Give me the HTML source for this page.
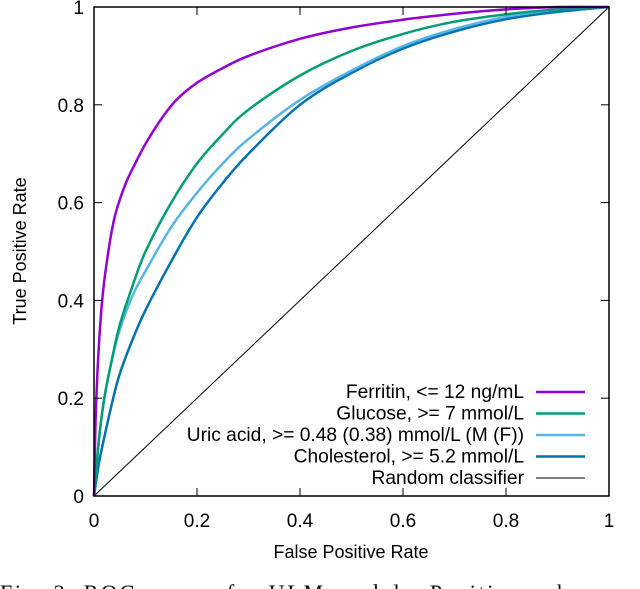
<!DOCTYPE html>
<html><head><meta charset="utf-8"><style>
html,body{margin:0;padding:0;background:#fff;width:640px;height:589px;overflow:hidden}
svg{display:block;font-family:"Liberation Sans",Arial,sans-serif}
</style></head><body>
<svg id="chart" width="640" height="589">
<text x="0" y="600" font-family="Liberation Serif,serif" font-size="22" fill="#000" textLength="600">Fig. 2.  ROC curves for ULM models. Positive values</text>
</svg>
<script>
const ticks=[0,0.2,0.4,0.6,0.8,1];
const tickLabels=["0","0.2","0.4","0.6","0.8","1"];
const seriesNames=["Ferritin, <= 12 ng/mL","Glucose, >= 7 mmol/L","Uric acid, >= 0.48 (0.38) mmol/L (M (F))","Cholesterol, >= 5.2 mmol/L"];
const ferritinX=[0,0.003,0.008,0.015,0.025,0.04,0.06,0.08,0.1,0.13,0.16,0.2,0.25,0.3,0.4,0.5,0.6,0.7,0.8,0.9,1];
const ferritinY=[0,0.15,0.28,0.39,0.48,0.57,0.635,0.68,0.72,0.77,0.81,0.845,0.875,0.9,0.935,0.958,0.974,0.986,0.995,1,1];
const glucoseX=[0,0.01,0.02,0.035,0.05,0.075,0.1,0.15,0.2,0.25,0.3,0.4,0.5,0.6,0.7,0.8,0.9,1];
const glucoseY=[0,0.12,0.2,0.28,0.35,0.43,0.5,0.6,0.68,0.74,0.79,0.86,0.91,0.945,0.97,0.985,0.995,1];
const uricX=[0,0.01,0.02,0.035,0.05,0.075,0.1,0.15,0.2,0.25,0.3,0.4,0.5,0.6,0.7,0.8,0.9,1];
const uricY=[0,0.12,0.2,0.28,0.34,0.41,0.46,0.55,0.62,0.68,0.73,0.81,0.87,0.92,0.955,0.98,0.995,1];
const cholX=[0,0.01,0.02,0.035,0.05,0.075,0.1,0.15,0.2,0.25,0.3,0.4,0.5,0.6,0.7,0.8,0.9,1];
const cholY=[0,0.07,0.12,0.19,0.25,0.32,0.38,0.48,0.57,0.64,0.7,0.8,0.865,0.915,0.95,0.975,0.99,1];
const colors=["#9400d3","#009e73","#56b4e9","#0072b2"];
const L=94,R=609,T=7,B=496;
const sx=v=>L+v*(R-L), sy=v=>B-v*(B-T);
const svg=document.getElementById('chart');
const NS="http://www.w3.org/2000/svg";
function mk(t,a){const e=document.createElementNS(NS,t);for(const k in a)e.setAttribute(k,a[k]);svg.appendChild(e);return e;}
function smooth(pts){
  let d='M'+pts[0][0].toFixed(1)+','+pts[0][1].toFixed(1);
  for(let i=0;i<pts.length-1;i++){
    const p0=pts[Math.max(0,i-1)],p1=pts[i],p2=pts[i+1],p3=pts[Math.min(pts.length-1,i+2)];
    const c1=[p1[0]+(p2[0]-p0[0])/6,p1[1]+(p2[1]-p0[1])/6];
    const c2=[p2[0]-(p3[0]-p1[0])/6,p2[1]-(p3[1]-p1[1])/6];
    d+=' C'+c1.map(v=>v.toFixed(1)).join(',')+' '+c2.map(v=>v.toFixed(1)).join(',')+' '+p2.map(v=>v.toFixed(1)).join(',');
  }
  return d;
}
const diag=mk('line',{x1:sx(0),y1:sy(0),x2:sx(1),y2:sy(1),stroke:'#000','stroke-width':1});


const sets=[[ferritinX,ferritinY],[glucoseX,glucoseY],[uricX,uricY],[cholX,cholY]];
const keys=['ferritin','glucose','uric-acid','cholesterol'];
for(let i=sets.length-1;i>=0;i--){
  const [xs,ys]=sets[i];
  const pts=xs.map((x,j)=>[sx(x),sy(ys[j])]);
  const p=mk('path',{d:smooth(pts),fill:'none',stroke:colors[i],'stroke-width':2.5,'stroke-linejoin':'round'});
  
  
}
const fr=mk('rect',{x:L,y:T,width:R-L,height:B-T,fill:'none',stroke:'#000','stroke-width':1.5});


ticks.forEach((t,i)=>{
  mk('line',{x1:sx(t),y1:B,x2:sx(t),y2:B-8,stroke:'#000'});
  mk('line',{x1:sx(t),y1:T,x2:sx(t),y2:T+8,stroke:'#000'});
  mk('line',{x1:L,y1:sy(t),x2:L+8,y2:sy(t),stroke:'#000'});
  mk('line',{x1:R,y1:sy(t),x2:R-8,y2:sy(t),stroke:'#000'});
  const xl=mk('text',{x:sx(t),y:527,'text-anchor':'middle','font-size':19});
  xl.textContent=tickLabels[i];
  
  
  const yl=mk('text',{x:84,y:sy(t)+7,'text-anchor':'end','font-size':19});
  yl.textContent=tickLabels[i];
  
  
});
const xt=mk('text',{x:351,y:558,'text-anchor':'middle','font-size':18});
xt.textContent='False Positive Rate';


const yt=mk('text',{x:0,y:0,'text-anchor':'middle','font-size':18,transform:'translate(26,251) rotate(-90)'});
yt.textContent='True Positive Rate';


const names=seriesNames.concat(['Random classifier']);
const lc=colors.concat(['#000']);
names.forEach((n,i)=>{
  const y=392+i*21.5;
  const tx=mk('text',{x:524,y:y+6,'text-anchor':'end','font-size':19.2});
  tx.textContent=n;
  
  
  mk('line',{x1:536,y1:y,x2:585,y2:y,stroke:lc[i],'stroke-width':i<4?2.5:1});
});
</script>
</body></html>
